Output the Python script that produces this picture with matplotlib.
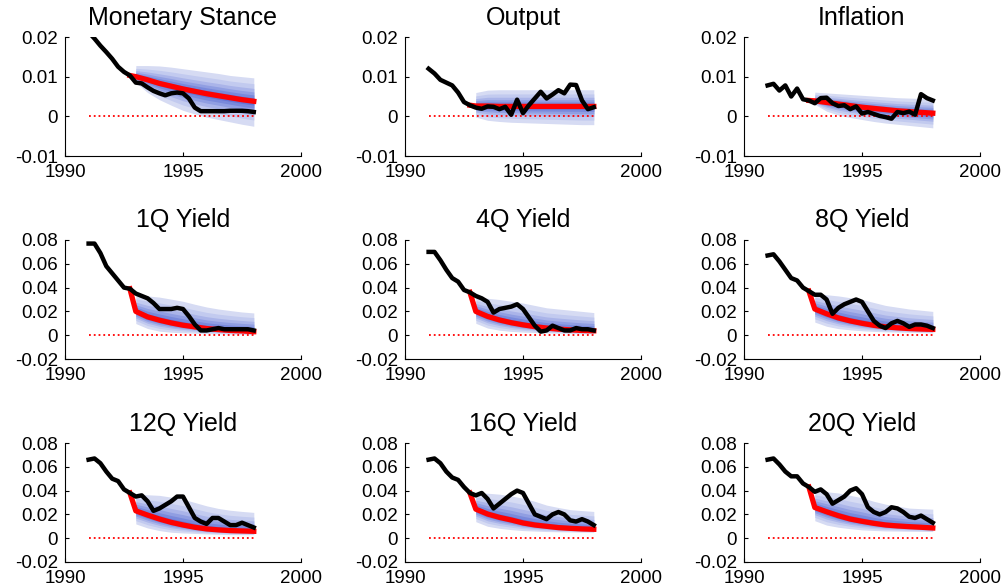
import numpy as np
import matplotlib.pyplot as plt

plt.rcParams['font.family'] = ['Liberation Sans', 'DejaVu Sans']

# quarterly history, half-yearly forecast fan
quarters = np.arange(1991.0, 1998.01, 0.25)
fan_dates = np.arange(1993.0, 1998.01, 0.5)
median_dates = np.concatenate([[1992.75], fan_dates])

titles = ['Monetary Stance', 'Output', 'Inflation',
          '1Q Yield', '4Q Yield', '8Q Yield',
          '12Q Yield', '16Q Yield', '20Q Yield']

# actual data (black)
stance_actual = [0.0212, 0.0196, 0.0178, 0.0162, 0.0145, 0.0125, 0.0112, 0.0103,
                 0.0085, 0.0083, 0.0073, 0.0064, 0.0058, 0.0053, 0.0058, 0.0060,
                 0.0058, 0.0045, 0.0022, 0.0013, 0.0013, 0.0013, 0.0013, 0.0013,
                 0.0014, 0.0014, 0.0014, 0.0013, 0.0011]
output_actual = [0.0120, 0.0108, 0.0092, 0.0085, 0.0078, 0.0060, 0.0036, 0.0028,
                 0.0022, 0.0019, 0.0025, 0.0024, 0.0018, 0.0024, 0.0004, 0.0042,
                 0.0008, 0.0028, 0.0045, 0.0062, 0.0045, 0.0055, 0.0066, 0.0058,
                 0.0080, 0.0079, 0.0040, 0.0018, 0.0023]
inflation_actual = [0.0078, 0.0082, 0.0065, 0.0078, 0.0050, 0.0070, 0.0043, 0.0040,
                    0.0033, 0.0046, 0.0047, 0.0033, 0.0026, 0.0028, 0.0018, 0.0025,
                    0.0007, 0.0011, 0.0006, 0.0001, -0.0002, -0.0006, 0.0011, 0.0008,
                    0.0012, 0.0004, 0.0056, 0.0046, 0.0040]
y1q_actual = [0.077, 0.077, 0.069, 0.058, 0.052, 0.046, 0.040, 0.039,
              0.035, 0.033, 0.031, 0.027, 0.022, 0.022, 0.022, 0.023,
              0.022, 0.016, 0.009, 0.004, 0.004, 0.005, 0.006, 0.005,
              0.005, 0.005, 0.005, 0.005, 0.004]
y4q_actual = [0.070, 0.070, 0.063, 0.055, 0.048, 0.045, 0.038, 0.036,
              0.033, 0.031, 0.028, 0.019, 0.022, 0.023, 0.024, 0.026,
              0.022, 0.015, 0.008, 0.003, 0.004, 0.008, 0.006, 0.004,
              0.004, 0.006, 0.005, 0.005, 0.004]
y8q_actual = [0.067, 0.068, 0.062, 0.055, 0.048, 0.046, 0.040, 0.037,
              0.034, 0.034, 0.030, 0.018, 0.023, 0.026, 0.028, 0.030,
              0.028, 0.020, 0.012, 0.008, 0.006, 0.010, 0.012, 0.010,
              0.007, 0.009, 0.009, 0.008, 0.006]
y12q_actual = [0.066, 0.067, 0.063, 0.056, 0.050, 0.048, 0.041, 0.038,
               0.035, 0.036, 0.031, 0.023, 0.025, 0.028, 0.031, 0.035,
               0.035, 0.026, 0.017, 0.014, 0.012, 0.017, 0.017, 0.014,
               0.011, 0.011, 0.013, 0.011, 0.009]
y16q_actual = [0.066, 0.067, 0.063, 0.056, 0.051, 0.049, 0.043, 0.038,
               0.036, 0.038, 0.033, 0.025, 0.029, 0.033, 0.037, 0.040,
               0.038, 0.029, 0.020, 0.018, 0.016, 0.020, 0.022, 0.020,
               0.015, 0.014, 0.016, 0.014, 0.011]
y20q_actual = [0.066, 0.067, 0.062, 0.056, 0.052, 0.052, 0.046, 0.043,
               0.039, 0.041, 0.037, 0.029, 0.032, 0.035, 0.040, 0.042,
               0.037, 0.026, 0.022, 0.020, 0.022, 0.026, 0.025, 0.022,
               0.018, 0.017, 0.019, 0.016, 0.013]

# median forecast (red), 1992.75 then half-yearly
stance_median = [0.0103, 0.0100, 0.0092, 0.0083, 0.0076, 0.0069, 0.0063,
                 0.0057, 0.0052, 0.0047, 0.0042, 0.0038]
output_median = [0.0028, 0.0026, 0.0026, 0.0025, 0.0025, 0.0025, 0.0025,
                 0.0025, 0.0025, 0.0025, 0.0025, 0.0025]
inflation_median = [0.0040, 0.0039, 0.0035, 0.0031, 0.0027, 0.0023, 0.0020,
                    0.0017, 0.0014, 0.0012, 0.0010, 0.0008]
y1q_median = [0.039, 0.020, 0.0154, 0.0126, 0.0103, 0.0084, 0.0070,
              0.0056, 0.0047, 0.0040, 0.0036, 0.0030]
y4q_median = [0.036, 0.020, 0.0158, 0.0128, 0.0105, 0.0087, 0.0072,
              0.0060, 0.0051, 0.0045, 0.0040, 0.0037]
y8q_median = [0.037, 0.022, 0.0180, 0.0145, 0.0120, 0.0100, 0.0083,
              0.0070, 0.0062, 0.0056, 0.0052, 0.0049]
y12q_median = [0.038, 0.023, 0.0194, 0.0161, 0.0133, 0.0111, 0.0092,
               0.0078, 0.0070, 0.0064, 0.0061, 0.0058]
y16q_median = [0.038, 0.0244, 0.0203, 0.0175, 0.0153, 0.0128, 0.0111,
               0.0100, 0.0089, 0.0083, 0.0078, 0.0075]
y20q_median = [0.043, 0.0258, 0.0222, 0.0189, 0.0161, 0.0142, 0.0125,
               0.0111, 0.0103, 0.0097, 0.0092, 0.0086]

# outer edges of the fan, half-yearly from 1993
stance_upper = [0.0128, 0.0128, 0.0127, 0.0124, 0.0120, 0.0116, 0.0112, 0.0108, 0.0103, 0.0100, 0.0097]
stance_lower = [0.0085, 0.0060, 0.0042, 0.0028, 0.0015, 0.0006, -0.0002, -0.0008, -0.0014, -0.0020, -0.0025]
output_upper = [0.0060, 0.0066, 0.0067, 0.0067, 0.0067, 0.0067, 0.0067, 0.0067, 0.0067, 0.0067, 0.0067]
output_lower = [-0.0002, -0.0010, -0.0013, -0.0015, -0.0016, -0.0017, -0.0018, -0.0019, -0.0020, -0.0021, -0.0021]
inflation_upper = [0.0061, 0.0059, 0.0057, 0.0055, 0.0053, 0.0051, 0.0049, 0.0047, 0.0046, 0.0045, 0.0045]
inflation_lower = [0.0030, 0.0013, 0.0003, -0.0003, -0.0008, -0.0013, -0.0017, -0.0020, -0.0023, -0.0026, -0.0029]
y1q_upper = [0.034, 0.033, 0.032, 0.0303, 0.0285, 0.026, 0.0237, 0.022, 0.0207, 0.0195, 0.0187]
y1q_lower = [0.0098, 0.0056, 0.0034, 0.0025, 0.0020, 0.0017, 0.0014, 0.0012, 0.0010, 0.0008, 0.0006]
y4q_upper = [0.032, 0.031, 0.030, 0.0285, 0.027, 0.025, 0.023, 0.022, 0.021, 0.020, 0.019]
y4q_lower = [0.010, 0.006, 0.0042, 0.0032, 0.0026, 0.0022, 0.0019, 0.0017, 0.0015, 0.0013, 0.0012]
y8q_upper = [0.035, 0.034, 0.033, 0.0315, 0.030, 0.0275, 0.025, 0.0235, 0.022, 0.021, 0.020]
y8q_lower = [0.011, 0.0075, 0.0055, 0.0045, 0.0037, 0.0032, 0.0028, 0.0026, 0.0024, 0.0022, 0.0020]
y12q_upper = [0.037, 0.0365, 0.036, 0.0345, 0.0328, 0.030, 0.0272, 0.025, 0.0235, 0.0225, 0.0217]
y12q_lower = [0.012, 0.0086, 0.0064, 0.0050, 0.0044, 0.0040, 0.0036, 0.0033, 0.0030, 0.0030, 0.0030]
y16q_upper = [0.038, 0.0378, 0.037, 0.0355, 0.0336, 0.031, 0.0278, 0.0258, 0.024, 0.0232, 0.0225]
y16q_lower = [0.0139, 0.010, 0.0083, 0.0072, 0.0064, 0.0060, 0.0056, 0.0054, 0.0053, 0.0051, 0.0050]
y20q_upper = [0.040, 0.039, 0.038, 0.036, 0.034, 0.031, 0.0286, 0.027, 0.0253, 0.0248, 0.0244]
y20q_lower = [0.0147, 0.011, 0.0092, 0.0080, 0.0070, 0.0065, 0.0061, 0.0060, 0.0058, 0.0057, 0.0056]

actuals = [stance_actual, output_actual, inflation_actual, y1q_actual, y4q_actual,
           y8q_actual, y12q_actual, y16q_actual, y20q_actual]
medians = [stance_median, output_median, inflation_median, y1q_median, y4q_median,
           y8q_median, y12q_median, y16q_median, y20q_median]
uppers = [stance_upper, output_upper, inflation_upper, y1q_upper, y4q_upper,
          y8q_upper, y12q_upper, y16q_upper, y20q_upper]
lowers = [stance_lower, output_lower, inflation_lower, y1q_lower, y4q_lower,
          y8q_lower, y12q_lower, y16q_lower, y20q_lower]

# share of the outer spread covered by each band, widest first
band_levels = [1.0, 0.75, 0.55, 0.4, 0.27, 0.15]
band_colors = ['#d6dbf3', '#c2caef', '#aab4e9', '#909ee2', '#7989db', '#6574d4']

small_ticks = [-0.01, 0, 0.01, 0.02]
small_labels = ['-0.01', '0', '0.01', '0.02']
yield_ticks = [-0.02, 0, 0.02, 0.04, 0.06, 0.08]
yield_labels = ['-0.02', '0', '0.02', '0.04', '0.06', '0.08']

W, H = 1008, 588
fig = plt.figure(figsize=(W / 100, H / 100), dpi=100)
col_left = [65, 405, 744]
row_top = [37, 240, 443]
ax_w, ax_h = 236, 119

for i, title in enumerate(titles):
    r, c = divmod(i, 3)
    ax = fig.add_axes([col_left[c] / W, 1 - (row_top[r] + ax_h) / H, ax_w / W, ax_h / H])

    med = np.array(medians[i])
    med_fan = med[1:]
    up = np.array(uppers[i])
    lo = np.array(lowers[i])
    for f, col in zip(band_levels, band_colors):
        ax.fill_between(fan_dates, med_fan + f * (lo - med_fan), med_fan + f * (up - med_fan),
                        color=col, linewidth=0)

    ax.plot([quarters[0], quarters[-1]], [0, 0], ':', color='red', lw=1.3)
    ax.plot(median_dates, med, color='red', lw=3.8, solid_joinstyle='round')
    ax.plot(quarters, actuals[i], color='black', lw=3.2, solid_joinstyle='round')

    ax.set_xlim(1990, 2000)
    ax.set_xticks([1990, 1995, 2000])
    if r == 0:
        ax.set_ylim(-0.01, 0.02)
        ax.set_yticks(small_ticks)
        ax.set_yticklabels(small_labels)
    else:
        ax.set_ylim(-0.02, 0.08)
        ax.set_yticks(yield_ticks)
        ax.set_yticklabels(yield_labels)

    for s in ['top', 'right']:
        ax.spines[s].set_visible(False)
    for s in ['left', 'bottom']:
        ax.spines[s].set_linewidth(0.8)
    ax.tick_params(direction='in', length=3, width=0.8, labelsize=13.5)
    ax.tick_params(axis='x', pad=6)
    ax.tick_params(axis='y', pad=5)
    ax.set_title(title, fontsize=18, pad=9)

fig.savefig('out.png', dpi=100)
